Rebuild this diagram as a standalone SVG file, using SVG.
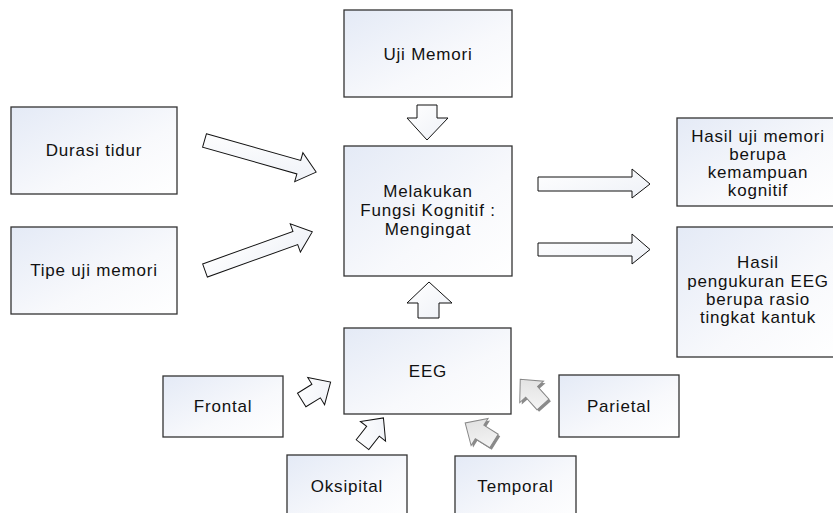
<svg xmlns="http://www.w3.org/2000/svg" width="833" height="513" viewBox="0 0 833 513">
<defs>
<linearGradient id="boxg" x1="0" y1="0" x2="1" y2="1">
<stop offset="0" stop-color="#e4eaf6"/>
<stop offset="0.6" stop-color="#f8f9fc"/>
<stop offset="1" stop-color="#ffffff"/>
</linearGradient>
<linearGradient id="arrg" x1="0" y1="0" x2="1" y2="1">
<stop offset="0" stop-color="#ffffff"/>
<stop offset="1" stop-color="#eef1f7"/>
</linearGradient>
<linearGradient id="grayg" x1="0" y1="0" x2="1" y2="1">
<stop offset="0" stop-color="#f8f8f8"/>
<stop offset="1" stop-color="#dcdcdc"/>
</linearGradient>
<polygon id="small" points="0,-8 17,-8 17,-16 34,0 17,16 17,8 0,8"/>
</defs>
<style>
.box{fill:url(#boxg);stroke:#333;stroke-width:1.3}
.t{font-family:"Liberation Sans",Arial,sans-serif;font-size:17px;letter-spacing:0.8px;fill:#111;text-anchor:middle}
.arr{fill:url(#arrg);stroke:#111;stroke-width:1}
.garr{fill:url(#grayg);stroke:#888;stroke-width:1}
.gsh{fill:#8a8a8a;stroke:none}
</style>
<rect width="833" height="513" fill="#ffffff"/>

<g id="connectors">
<polygon class="arr" points="417,105 437,105 437,118 448,118 427,140 407,118 417,118"/>
<polygon class="arr" points="418,318 439,318 439,303 452,303 429,282 407,303 418,303"/>
<polygon class="arr" transform="translate(204.5,140.5) rotate(15.8)" points="0,-7 98,-7 98,-15 116,0 98,15 98,7 0,7"/>
<polygon class="arr" transform="translate(205,270.5) rotate(-19.8)" points="0,-7 96,-7 96,-15 114,0 96,15 96,7 0,7"/>
<polygon class="arr" points="538,177 632,177 632,169 650,184 632,198 632,191 538,191"/>
<polygon class="arr" points="538,243 632,243 632,234 650,249.5 632,264 632,256 538,256"/>
<use href="#small" class="arr" transform="translate(301.7,400) rotate(-31.8)"/>
<use href="#small" class="arr" transform="translate(362.5,444.7) rotate(-52)"/>
<use href="#small" class="gsh" transform="translate(496,443) rotate(-148)"/>
<use href="#small" class="garr" transform="translate(494,441) rotate(-148)"/>
<use href="#small" class="gsh" transform="translate(545,406.5) rotate(-132)"/>
<use href="#small" class="garr" transform="translate(543,404.5) rotate(-132)"/>
</g>

<g id="uji-memori">
<rect class="box" x="344" y="10" width="168" height="87"/>
<text class="t" x="428" y="60">Uji Memori</text>
</g>
<g id="center">
<rect class="box" x="344" y="146" width="168" height="130"/>
<text class="t" x="428" y="197">Melakukan</text>
<text class="t" x="428" y="216">Fungsi Kognitif :</text>
<text class="t" x="428" y="234.5">Mengingat</text>
</g>
<g id="durasi-tidur">
<rect class="box" x="11" y="107" width="166" height="87"/>
<text class="t" x="94" y="156">Durasi tidur</text>
</g>
<g id="tipe-uji-memori">
<rect class="box" x="11" y="227" width="166" height="87"/>
<text class="t" x="94" y="276">Tipe uji memori</text>
</g>
<g id="hasil-uji-memori">
<rect class="box" x="677" y="118" width="162" height="88"/>
<text class="t" x="758" y="142">Hasil uji memori</text>
<text class="t" x="758" y="160">berupa</text>
<text class="t" x="758" y="178">kemampuan</text>
<text class="t" x="758" y="196">kognitif</text>
</g>
<g id="hasil-eeg">
<rect class="box" x="677" y="227" width="162" height="130"/>
<text class="t" x="758" y="268">Hasil</text>
<text class="t" x="758" y="287">pengukuran EEG</text>
<text class="t" x="758" y="305">berupa rasio</text>
<text class="t" x="758" y="323">tingkat kantuk</text>
</g>
<g id="eeg">
<rect class="box" x="344" y="328" width="167" height="86"/>
<text class="t" x="428" y="377">EEG</text>
</g>
<g id="frontal">
<rect class="box" x="163" y="376" width="120" height="61"/>
<text class="t" x="223" y="412">Frontal</text>
</g>
<g id="parietal">
<rect class="box" x="559" y="375" width="120" height="62"/>
<text class="t" x="619" y="412">Parietal</text>
</g>
<g id="oksipital">
<rect class="box" x="287" y="455" width="120" height="70"/>
<text class="t" x="347" y="492">Oksipital</text>
</g>
<g id="temporal">
<rect class="box" x="455" y="456" width="121" height="70"/>
<text class="t" x="515.5" y="492">Temporal</text>
</g>
</svg>
